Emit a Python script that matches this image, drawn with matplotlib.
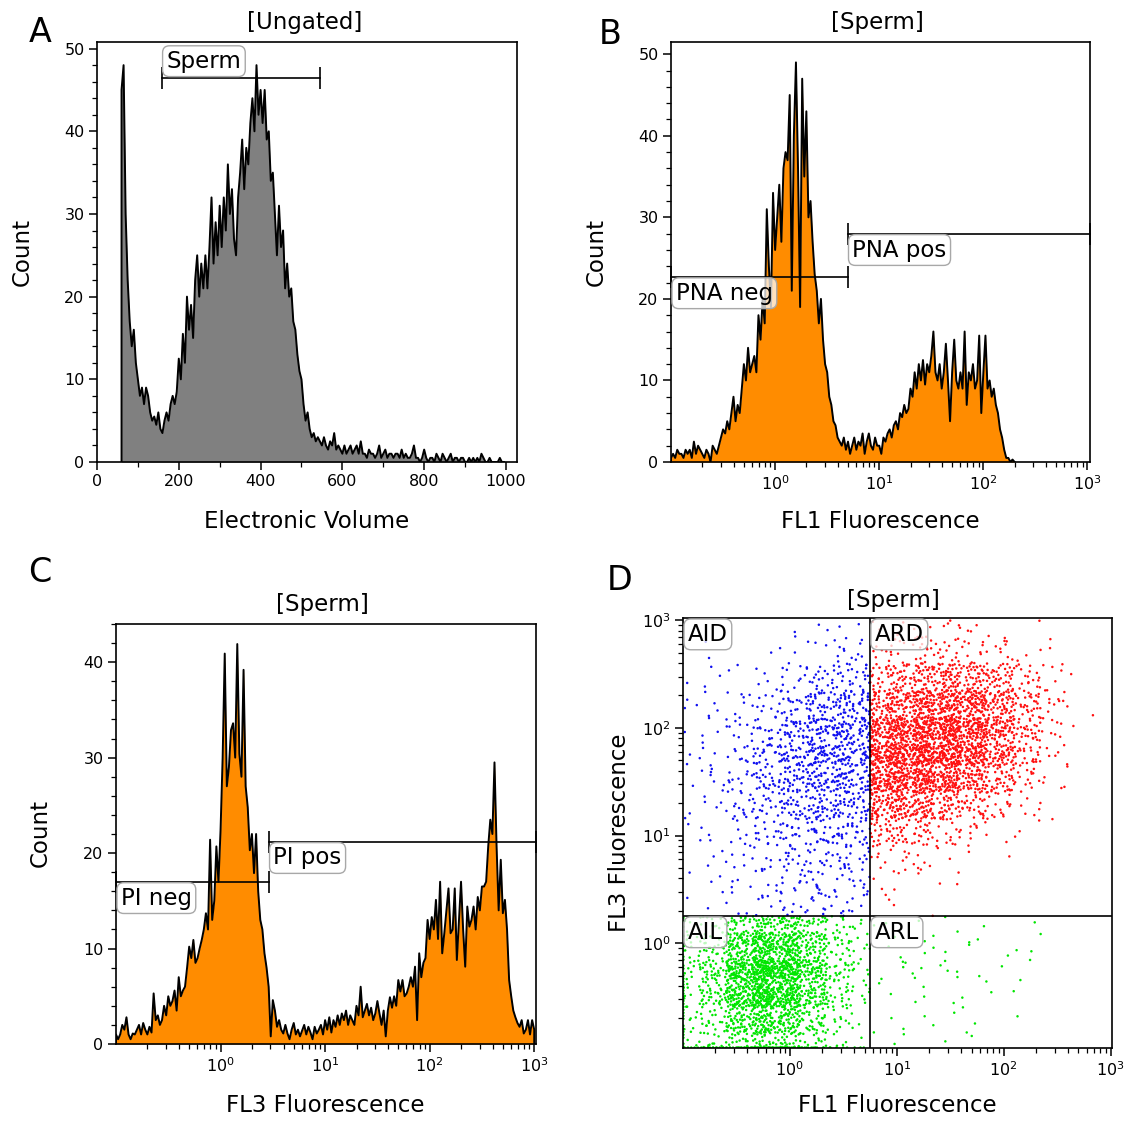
"""Flow cytometry panels: sperm gating (volume, PNA, PI, PNA vs PI)."""

import numpy as np
import matplotlib
matplotlib.use("Agg")
import matplotlib.pyplot as plt
from matplotlib.ticker import FixedLocator, MultipleLocator, NullFormatter

plt.rcParams["font.family"] = ["DejaVu Sans"]

W, H = 1129, 1122

# ── Panel A: electronic volume histogram (channels 60..995, step 5) ─────────
EV_CHANNELS = np.arange(60, 1000, 5)
EV_COUNTS = [
    45, 48, 30, 22, 17, 14, 16, 12,
    10, 8, 9, 7, 9, 8, 6, 5,
    5.5, 4.5, 6, 4, 3.5, 5, 6, 5,
    7, 8, 7, 8.5, 12.5, 10, 15.5, 12,
    20, 16, 19, 15, 22, 25, 20, 24,
    21, 25, 21, 26, 32, 24, 29, 25,
    31, 26, 32, 28, 36, 30, 33, 27,
    25, 32, 35, 39, 33, 38, 36, 41,
    44, 40, 48, 42, 45, 41, 45, 39,
    40, 34, 35, 30, 25, 31, 26, 28,
    21, 24, 20, 21, 17, 16, 13, 11,
    10, 7, 5, 6, 4, 3, 3.5, 2.5,
    3, 2.5, 2, 3, 2, 1.5, 2.5, 2,
    3.5, 1.5, 2, 1.5, 1, 2, 1, 1.5,
    2, 1, 1.5, 2, 1, 2.5, 1, 1,
    0.5, 1.5, 1, 1, 0.5, 1, 2, 0.5,
    1, 1.5, 0.5, 1, 1, 0.5, 1, 1,
    0.5, 1.5, 0.5, 1, 0.5, 0.5, 1, 2,
    0.5, 0.5, 0, 0.5, 1.5, 0.5, 0, 0.5,
    0.5, 0, 1, 0.5, 0, 1, 0.5, 0,
    0.5, 1, 0, 0.5, 0.5, 0, 0.5, 0.5,
    0, 0, 0.5, 0, 0.5, 0, 0.5, 0,
    1, 0.5, 0, 0, 0.5, 0, 0, 0,
    0, 0.5, 0, 0,
]

# ── Panel B: FL1 histogram (log10 channel -1.00..2.30, step 0.02) ───────────
FL1_LOG = np.linspace(-1.0, 2.30, 166)
FL1_COUNTS = [
    0.5, 1, 0.5, 1.5, 1, 1, 0.5, 1.5,
    1, 1.5, 0.5, 2.5, 1, 2, 1.5, 1,
    0.5, 1.5, 1, 0, 2, 1.5, 1, 2,
    3, 4, 3.5, 5, 4, 6, 8, 5,
    7, 6, 9, 12, 10, 14, 11, 12,
    13, 11, 18, 15, 20, 17, 31, 24,
    19, 33, 26, 30, 34, 27, 36, 38,
    37, 45, 21, 40, 49, 36, 19, 47,
    35, 43, 30, 32, 27, 23, 21, 17,
    20, 15, 12, 11, 8, 7, 5, 4.5,
    3, 2.5, 2, 3, 1.5, 2.5, 1, 2,
    3, 1.5, 2.5, 2, 3.5, 1, 2.5, 3.5,
    2, 1.5, 3, 2, 2, 1, 3, 2.5,
    3.5, 4, 3, 4.5, 5, 4, 6, 5.5,
    7, 6, 6.5, 9, 8, 11, 9, 12,
    10, 12.5, 9.5, 12, 11, 13, 16, 11,
    10, 12, 9, 11, 14.5, 10, 5, 11,
    15, 10, 9, 11, 9, 16, 7, 11,
    10, 12, 9, 10, 15.5, 6, 11, 15.5,
    9, 10, 8, 9, 7, 6, 4, 3,
    1.5, 0.5, 0.5, 0, 0.3, 0,
]

# ── Panel C: FL3 histogram (log10 channel -1.00..3.00, step 0.02) ───────────
FL3_LOG = np.linspace(-1.0, 3.0, 201)
FL3_COUNTS = [
    1, 0.5, 1, 2, 1.5, 2.8, 1, 0.5,
    1.1, 1, 1.5, 2, 1, 2.2, 1.5, 1,
    1.8, 1.2, 5.3, 2.5, 3, 2, 2.5, 4,
    3, 5, 4, 4.5, 5.6, 3.5, 7, 5,
    5.6, 6, 8, 10.2, 9, 10.9, 8.5, 9,
    10, 10.9, 12, 13.7, 12, 21.4, 13, 15,
    20.7, 17, 22.4, 30, 40.9, 27, 29, 32.9,
    33.6, 30, 41.9, 30.4, 28, 39.2, 27, 24.8,
    20.3, 22, 17.9, 22, 16, 13, 12, 9.5,
    8, 6, 0.8, 4.6, 3.5, 1.8, 2.5, 1.5,
    1.1, 2, 1.1, 0.5, 1.5, 2.2, 1, 1.5,
    0.8, 1.4, 2, 1, 1.8, 1.2, 0.5, 1.8,
    1.1, 1.5, 2, 1, 2.5, 1.5, 2.8, 1.2,
    2.5, 1.8, 3, 2, 3.2, 2.5, 3.5, 2,
    3, 2.5, 2, 4, 3, 6, 2.8, 3.5,
    4.2, 3, 3.8, 2.5, 3.2, 4.5, 3.2, 2,
    3.5, 0.8, 3.5, 4.9, 3.8, 5, 4, 6.7,
    5.5, 6.7, 5, 5.3, 6, 7, 6, 8.1,
    2.5, 9.5, 7, 8.5, 9, 13, 11, 13.3,
    12, 15.1, 11, 17, 9.5, 11.6, 14, 16.3,
    11.6, 12, 16.3, 8.8, 13, 17, 12, 8.1,
    14.4, 12.3, 13, 14.4, 12, 15.4, 14, 16.5,
    16.5, 17, 20.7, 23.5, 22, 29.5, 20.7, 14,
    19.3, 13.7, 15.1, 12, 6.7, 5, 3.5, 2.8,
    2.2, 1.8, 2.5, 1.1, 1.5, 2.5, 1, 2.5,
    1.5,
]

# ── Panel D: event counts per 0.25-decade cell, rows top (FL3 10^2.75..10^3)
#    to bottom (10^-1..10^-0.75), columns FL1 10^-1 .. 10^3 ─────────────────
D_COUNTS = [
    [0, 0, 0, 1, 2, 3, 3, 5, 6, 8, 6, 4, 1, 0, 0, 0],
    [1, 1, 1, 2, 5, 10, 12, 13, 18, 23, 20, 15, 8, 4, 1, 0],
    [4, 4, 5, 7, 17, 27, 30, 40, 58, 78, 78, 65, 36, 13, 3, 0],
    [4, 6, 8, 17, 34, 46, 42, 72, 98, 110, 104, 85, 45, 15, 3, 0],
    [3, 6, 12, 27, 48, 60, 50, 110, 143, 156, 130, 90, 45, 13, 1, 0],
    [3, 7, 17, 31, 46, 50, 44, 117, 130, 130, 98, 65, 32, 8, 0, 0],
    [4, 7, 17, 26, 36, 41, 36, 91, 91, 72, 52, 28, 13, 4, 0, 0],
    [3, 6, 12, 19, 26, 30, 26, 45, 45, 26, 16, 8, 4, 1, 0, 0],
    [2, 4, 7, 12, 18, 18, 16, 12, 12, 5, 3, 1, 0, 0, 0, 0],
    [2, 3, 6, 10, 14, 14, 12, 4, 4, 2, 1, 0, 0, 0, 0, 0],
    [1, 2, 5, 8, 12, 12, 8, 2, 2, 1, 0, 0, 0, 0, 0, 0],
    [12, 25, 50, 70, 50, 24, 9, 2, 3, 2, 2, 1, 1, 1, 0, 0],
    [18, 50, 140, 165, 100, 36, 12, 3, 4, 4, 3, 3, 2, 1, 0, 0],
    [18, 60, 175, 185, 110, 36, 12, 2, 3, 3, 3, 2, 1, 0, 0, 0],
    [14, 42, 110, 120, 65, 24, 7, 1, 3, 2, 2, 2, 1, 0, 0, 0],
    [9, 22, 48, 52, 30, 12, 4, 1, 2, 2, 1, 1, 0, 0, 0, 0],
]
# off-scale events piled on the bottom / left axis in the AIL quadrant
D_EDGE_BOTTOM = [8, 14, 20, 20, 14, 7, 3]
D_EDGE_LEFT = [8, 8, 8, 6, 4]

# gates
SPERM_GATE = (158, 546, 46.5)
PNA_NEG = (0.1, 4.96, 22.7)
PNA_POS = (4.96, 1057, 28.0)
PI_NEG = (0.1, 2.88, 17.0)
PI_POS = (2.88, 1040, 21.2)
QUAD_X, QUAD_Y = 5.6, 1.79

ORANGE = "#FF8C00"
GRAY = "#808080"
BLUE = "#1010F0"
RED = "#FF1010"
GREEN = "#00E600"

LABEL_FS = 16.5
TICK_FS = 11.5


def px_axes(fig, left, top, right, bottom):
    return fig.add_axes([left / W, 1 - bottom / H, (right - left) / W, (bottom - top) / H])


def ftext(fig, x, y, s, **kw):
    fig.text(x / W, 1 - y / H, s, ha="center", va="center", **kw)


def style(ax):
    for sp in ax.spines.values():
        sp.set_linewidth(1.2)
    ax.tick_params(which="major", direction="out", length=6, width=1.1,
                   labelsize=TICK_FS, pad=3, top=False, right=False)
    ax.tick_params(which="minor", direction="out", length=3.5, width=0.9,
                   top=False, right=False)


def log_xaxis(ax, lo, hi):
    ax.set_xscale("log")
    ax.set_xlim(lo, hi)
    ax.xaxis.set_major_locator(FixedLocator([1, 10, 100, 1000]))
    ax.set_xticklabels([r"$10^0$", r"$10^1$", r"$10^2$", r"$10^3$"])
    minors = [m * 10.0 ** e for e in range(-1, 3) for m in range(2, 10)]
    ax.xaxis.set_minor_locator(FixedLocator(minors))
    ax.xaxis.set_minor_formatter(NullFormatter())


def draw_hist(ax, x, counts, color):
    xs = np.r_[x[0], x, x[-1]]
    ys = np.r_[0, counts, 0]
    ax.fill_between(xs, ys, 0, color=color, lw=0, zorder=1)
    ax.plot(xs, ys, color="k", lw=1.4, zorder=2)


def label_box(ax, x, y, s, above=False):
    ax.annotate(s, xy=(x, y), xytext=(3.5, 3.5 if above else -3.5),
                textcoords="offset points", ha="left",
                va="bottom" if above else "top", fontsize=LABEL_FS, zorder=6,
                bbox=dict(boxstyle="round,pad=0.17,rounding_size=0.3",
                          fc=(1, 1, 1, 0.75), ec="#a8a8a8", lw=1.0))


def gate(ax, g, s, above=False):
    x0, x1, y = g
    ax.plot([x0, x1], [y, y], color="k", lw=1.2, marker="|", ms=16, mew=1.2,
            zorder=5, clip_on=False)
    label_box(ax, x0, y, s, above)


def reflect(v, lo, hi):
    v = np.where(v < lo, 2 * lo - v, v)
    return np.where(v > hi, 2 * hi - v, v)


def halton(k, base):
    """Van der Corput radical inverse of integers k in the given base."""
    out = np.zeros(len(k))
    f = 1.0 / base
    k = k.copy()
    while np.any(k > 0):
        out += f * (k % base)
        k //= base
        f /= base
    return out


def d_points():
    grid = np.array(D_COUNTS)[::-1]          # row 0 = lowest FL3 cell
    xs, ys, cs = [], [], []
    start = 1
    for j in range(grid.shape[0]):
        for i in range(grid.shape[1]):
            n = grid[j, i]
            if n == 0:
                continue
            k = np.arange(start, start + n)
            start += n
            # even spread over the cell, blurred a little into neighbours
            u = -0.4 + 1.8 * halton(k, 2)
            v = -0.4 + 1.8 * halton(k, 3)
            lx = -1 + 0.25 * (i + u)
            ly = -1 + 0.25 * (j + v)
            qx = (-1, 0.75) if i <= 6 else (0.75, 3)
            qy = (-1, 0.25) if j <= 4 else (0.25, 3)
            xs.append(10 ** reflect(lx, *qx))
            ys.append(10 ** reflect(ly, *qy))
            if j >= 5:
                c = BLUE if i <= 6 else RED
            else:
                c = GREEN
            cs += [c] * n
    for i, n in enumerate(D_EDGE_BOTTOM):
        k = np.arange(start, start + n)
        start += n
        xs.append(10 ** (-1 + 0.25 * (i + halton(k, 2))))
        ys.append(np.full(n, 0.107))
        cs += [GREEN] * n
    for j, n in enumerate(D_EDGE_LEFT):
        k = np.arange(start, start + n)
        start += n
        xs.append(np.full(n, 0.101))
        ys.append(10 ** (-1 + 0.25 * (j + halton(k, 3))))
        cs += [GREEN] * n
    return np.concatenate(xs), np.concatenate(ys), cs


def main():
    fig = plt.figure(figsize=(W / 100, H / 100), dpi=100)

    # ── A ──
    ax = px_axes(fig, 97, 42, 517, 462)
    style(ax)
    draw_hist(ax, EV_CHANNELS, EV_COUNTS, GRAY)
    ax.set_xlim(0, 1027)
    ax.set_ylim(0, 50.8)
    ax.xaxis.set_major_locator(FixedLocator([0, 200, 400, 600, 800, 1000]))
    ax.xaxis.set_minor_locator(MultipleLocator(100))
    ax.yaxis.set_major_locator(MultipleLocator(10))
    ax.yaxis.set_minor_locator(MultipleLocator(2))
    gate(ax, SPERM_GATE, "Sperm", above=True)

    # ── B ──
    ax = px_axes(fig, 671, 42, 1090, 462)
    style(ax)
    draw_hist(ax, 10 ** FL1_LOG, FL1_COUNTS, ORANGE)
    log_xaxis(ax, 0.1, 1057)
    ax.set_ylim(0, 51.5)
    ax.yaxis.set_major_locator(MultipleLocator(10))
    ax.yaxis.set_minor_locator(MultipleLocator(2))
    gate(ax, PNA_NEG, "PNA neg")
    gate(ax, PNA_POS, "PNA pos")

    # ── C ──
    ax = px_axes(fig, 116, 624, 536, 1044)
    style(ax)
    draw_hist(ax, 10 ** FL3_LOG, FL3_COUNTS, ORANGE)
    log_xaxis(ax, 0.1, 1040)
    ax.set_ylim(0, 44)
    ax.yaxis.set_major_locator(MultipleLocator(10))
    ax.yaxis.set_minor_locator(MultipleLocator(2))
    gate(ax, PI_NEG, "PI neg")
    gate(ax, PI_POS, "PI pos")

    # ── D ──
    ax = px_axes(fig, 683, 618, 1112, 1048)
    style(ax)
    x, y, c = d_points()
    ax.scatter(x, y, s=3.2, c=c, linewidths=0, zorder=1)
    log_xaxis(ax, 0.1, 1030)
    ax.set_yscale("log")
    ax.set_ylim(0.106, 1050)
    ax.yaxis.set_major_locator(FixedLocator([1, 10, 100, 1000]))
    ax.set_yticklabels([r"$10^0$", r"$10^1$", r"$10^2$", r"$10^3$"])
    ax.yaxis.set_minor_locator(FixedLocator(
        [m * 10.0 ** e for e in range(-1, 3) for m in range(2, 10)]))
    ax.yaxis.set_minor_formatter(NullFormatter())
    ax.axvline(QUAD_X, color="k", lw=1.2, zorder=4)
    ax.axhline(QUAD_Y, color="k", lw=1.2, zorder=4)
    ylo, yhi = ax.get_ylim()
    xlo, _ = ax.get_xlim()
    label_box(ax, xlo, yhi, "AID")
    label_box(ax, QUAD_X, yhi, "ARD")
    label_box(ax, xlo, QUAD_Y, "AIL")
    label_box(ax, QUAD_X, QUAD_Y, "ARL")

    # ── text ──
    for s, xy in [("A", (40, 32)), ("B", (610, 34)), ("C", (40, 573)), ("D", (620, 580))]:
        ftext(fig, *xy, s, fontsize=24)
    for s, xy in [("[Ungated]", (305, 22)), ("[Sperm]", (877, 22)),
                  ("[Sperm]", (322, 605)), ("[Sperm]", (893, 600))]:
        ftext(fig, *xy, s, fontsize=LABEL_FS)
    for s, xy in [("Count", (22, 252)), ("Count", (596, 252)),
                  ("Count", (40, 833)), ("FL3 Fluorescence", (620, 833))]:
        ftext(fig, *xy, s, fontsize=LABEL_FS, rotation=90)
    for s, xy in [("Electronic Volume", (307, 521)), ("FL1 Fluorescence", (880, 521)),
                  ("FL3 Fluorescence", (325, 1105)), ("FL1 Fluorescence", (897, 1106))]:
        ftext(fig, *xy, s, fontsize=LABEL_FS)

    fig.savefig("out.png", dpi=100)
    plt.close(fig)


if __name__ == "__main__":
    main()
